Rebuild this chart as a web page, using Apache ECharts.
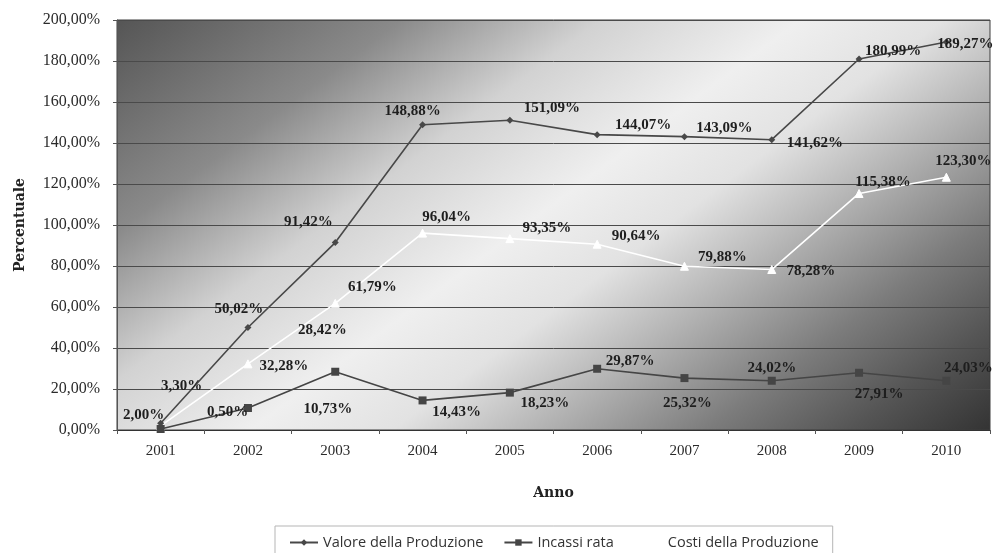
<!DOCTYPE html>
<html>
<head>
<meta charset="utf-8">
<script src="https://cdn.jsdelivr.net/npm/echarts@6/dist/echarts.min.js"></script>
<style>
  html, body { margin: 0; padding: 0; background: #ffffff; }
  #chart { width: 996px; height: 553px; }
</style>
</head>
<body>
<div id="chart"></div>
<script>
// Years on the category axis
const years = ['2001', '2002', '2003', '2004', '2005', '2006', '2007', '2008', '2009', '2010'];

// Percent growth values per series
const valoreProduzione = [3.30, 50.02, 91.42, 148.88, 151.09, 144.07, 143.09, 141.62, 180.99, 189.27];
const incassiRata      = [0.50, 10.73, 28.42, 14.43, 18.23, 29.87, 25.32, 24.02, 27.91, 24.03];
const costiProduzione  = [2.00, 32.28, 61.79, 96.04, 93.35, 90.64, 79.88, 78.28, 115.38, 123.30];

// Y axis ticks
const yMin = 0, yMax = 200, yStep = 20;

// Label displacement (px) from each point, per series
const valoreLabelShift  = [[21, -37], [-9, -18], [-27, -20], [-10, -14], [42, -12], [46, -10], [40, -9], [43, 3], [34, -8], [19, 2]];
const incassiLabelShift = [[67, -17], [80, 1], [-13, -42], [34, 12], [35, 10], [33, -8], [3, 25], [0, -13], [20, 21], [22, -13]];
const costiLabelShift   = [[-17, -11], [36, 2], [37, -16], [24, -16], [37, -11], [39, -8], [38, -9], [39, 2], [24, -11], [17, -16]];

const pct = v => v.toFixed(2).replace('.', ',') + '%';

function withLabels(values, shifts) {
  return values.map((v, i) => ({ value: v, label: { offset: shifts[i] } }));
}

const labelStyle = {
  show: true,
  position: 'inside',
  formatter: p => pct(p.value),
  fontFamily: 'Liberation Serif',
  fontWeight: 'bold',
  fontSize: 15,
  color: '#1e1e1e'
};

const chart = echarts.init(document.getElementById('chart'), null, { renderer: 'canvas' });

chart.setOption({
  animation: false,
  backgroundColor: '#ffffff',
  grid: {
    left: 117, right: 6, top: 20, bottom: 123,
    show: true,
    borderColor: '#3c3c3c',
    borderWidth: 1,
    backgroundColor: new echarts.graphic.LinearGradient(0, 0, 0.582, 1.663, [
      { offset: 0.00, color: '#555555' },
      { offset: 0.20, color: '#8a8a8a' },
      { offset: 0.34, color: '#d2d2d2' },
      { offset: 0.48, color: '#efefef' },
      { offset: 0.58, color: '#e2e2e2' },
      { offset: 0.68, color: '#b4b4b4' },
      { offset: 0.80, color: '#7c7c7c' },
      { offset: 0.90, color: '#555555' },
      { offset: 1.00, color: '#333333' }
    ])
  },
  legend: {
    left: 275,
    top: 526,
    padding: [9, 14, 8, 14],
    borderColor: '#b5b5b5',
    borderWidth: 1,
    itemWidth: 28,
    itemHeight: 8,
    itemGap: 20,
    textStyle: { fontFamily: 'Open Sans', fontSize: 14.5, color: '#333333' },
    data: ['Valore della Produzione', 'Incassi rata', 'Costi della Produzione']
  },
  xAxis: {
    type: 'category',
    data: years,
    boundaryGap: true,
    name: 'Anno',
    nameLocation: 'middle',
    nameGap: 56,
    nameTextStyle: { fontFamily: 'DejaVu Serif', fontWeight: 'bold', fontSize: 14, color: '#222222' },
    axisLine: { lineStyle: { color: '#333333', width: 1 } },
    axisTick: { show: true, length: 4, lineStyle: { color: '#555555' } },
    axisLabel: { fontFamily: 'Liberation Serif', fontSize: 15, color: '#2a2a2a', margin: 14 }
  },
  yAxis: {
    type: 'value',
    min: yMin, max: yMax, interval: yStep,
    name: 'Percentuale',
    nameLocation: 'middle',
    nameGap: 90,
    nameTextStyle: { fontFamily: 'DejaVu Serif', fontWeight: 'bold', fontSize: 14, color: '#222222' },
    axisLine: { show: true, lineStyle: { color: '#555555' } },
    axisTick: { show: true, length: 4, lineStyle: { color: '#555555' } },
    splitLine: { lineStyle: { color: '#4a4a4a', width: 1 } },
    axisLabel: {
      fontFamily: 'Liberation Serif', fontSize: 16, color: '#2a2a2a', margin: 17,
      formatter: v => pct(v)
    }
  },
  series: [
    {
      name: 'Valore della Produzione',
      type: 'line',
      data: withLabels(valoreProduzione, valoreLabelShift),
      symbol: 'diamond',
      symbolSize: 7,
      itemStyle: { color: '#484848' },
      lineStyle: { color: '#484848', width: 1.6 },
      label: labelStyle,
      z: 4
    },
    {
      name: 'Incassi rata',
      type: 'line',
      data: withLabels(incassiRata, incassiLabelShift),
      symbol: 'rect',
      symbolSize: 8,
      itemStyle: { color: '#454545' },
      lineStyle: { color: '#454545', width: 1.6 },
      label: labelStyle,
      z: 4
    },
    {
      name: 'Costi della Produzione',
      type: 'line',
      data: withLabels(costiProduzione, costiLabelShift),
      symbol: 'triangle',
      symbolSize: 8,
      itemStyle: { color: '#ffffff', borderColor: '#ffffff' },
      lineStyle: { color: '#ffffff', width: 1.6 },
      label: labelStyle,
      z: 3
    }
  ]
});
</script>
</body>
</html>
